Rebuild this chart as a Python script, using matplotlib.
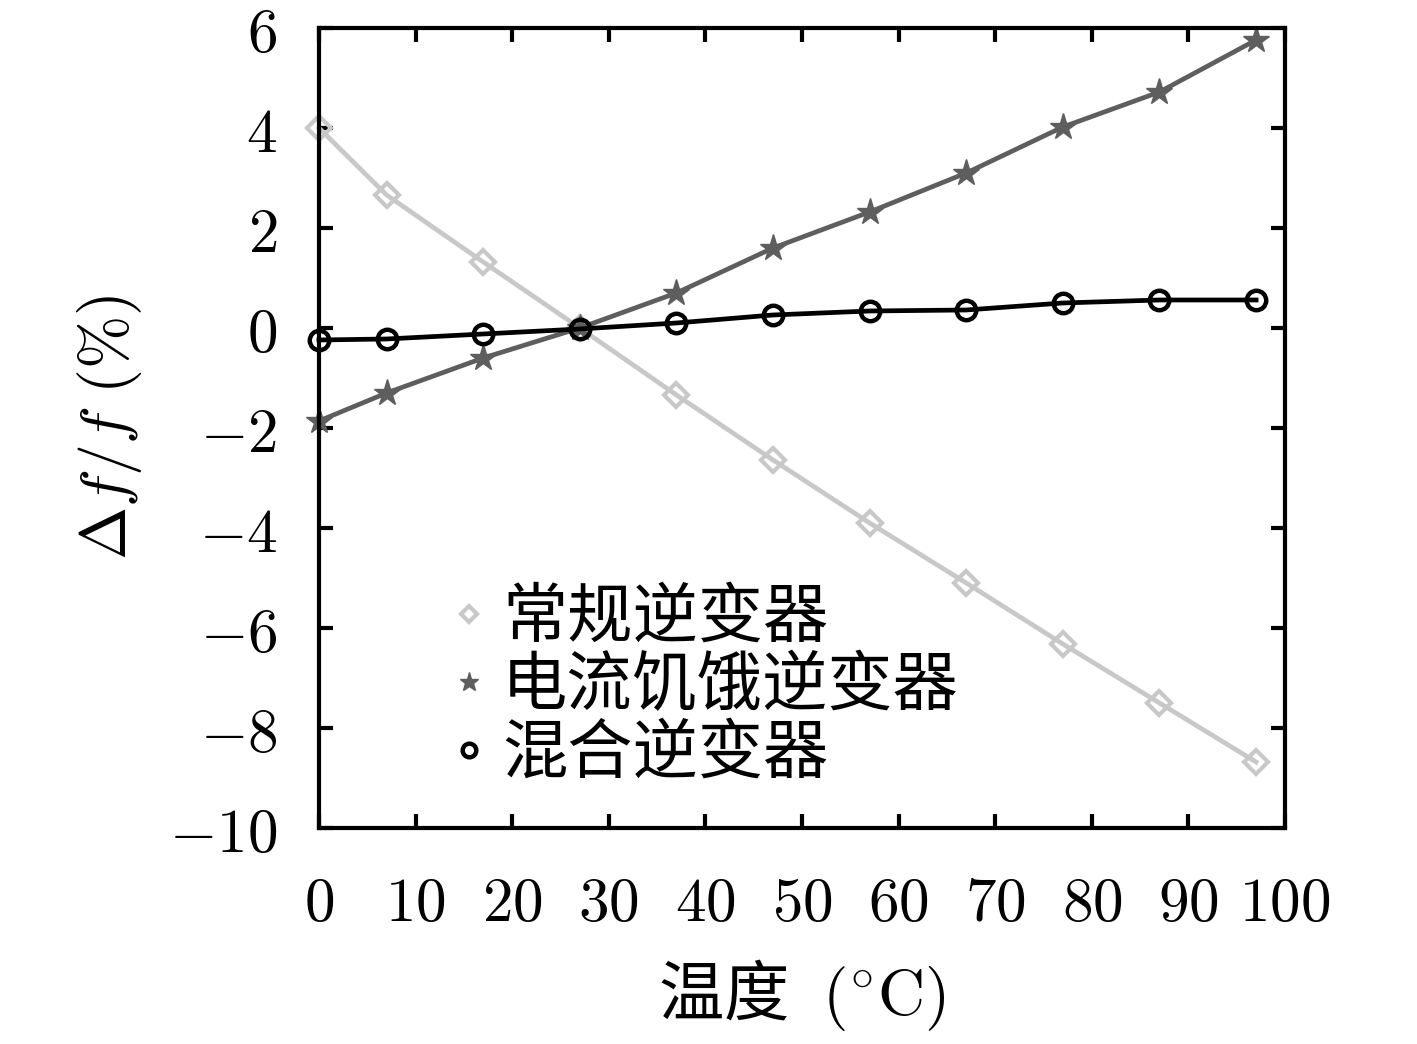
import matplotlib
matplotlib.use("Agg")
import matplotlib.pyplot as plt
from matplotlib.ticker import FuncFormatter

temps = [0, 7, 17, 27, 37, 47, 57, 67, 77, 87, 97]
conventional = [4.0, 2.66, 1.32, 0.0, -1.34, -2.64, -3.9, -5.1, -6.32, -7.5, -8.68]
current_starved = [-1.86, -1.3, -0.6, 0.0, 0.7, 1.6, 2.32, 3.1, 4.02, 4.72, 5.76]
hybrid = [-0.24, -0.22, -0.12, -0.02, 0.1, 0.26, 0.34, 0.36, 0.5, 0.56, 0.56]
labels = ["常规逆变器", "电流饥饿逆变器", "混合逆变器"]
xticks = [0, 10, 20, 30, 40, 50, 60, 70, 80, 90, 100]
yticks = [-10, -8, -6, -4, -2, 0, 2, 4, 6]

plt.rcParams['mathtext.fontset'] = 'cm'
plt.rcParams['font.family'] = ['Noto Sans CJK SC', 'DejaVu Sans']

fig = plt.figure(figsize=(14.17, 10.44), dpi=100)
ax = fig.add_axes([0.2251, 0.2069, 0.6818, 0.7663])

ax.plot(temps, conventional, color='#c8c8c8', lw=3.4, marker='D', ms=12,
        mfc='none', mec='#c8c8c8', mew=3.0, label=labels[0], clip_on=False)
ax.plot(temps, current_starved, color='#5e5e5e', lw=3.4, marker='*', ms=20,
        mfc='#5e5e5e', mec='#5e5e5e', label=labels[1], clip_on=False)
ax.plot(temps, hybrid, color='black', lw=3.4, marker='o', ms=14,
        mfc='none', mec='black', mew=3.2, label=labels[2], zorder=3,
        clip_on=False)

ax.set_xlim(0, 100)
ax.set_ylim(-10, 6)
ax.set_xticks(xticks)
ax.set_yticks(yticks)
fmt = FuncFormatter(lambda v, p: r'$%g$' % v if v >= 0 else r'$-%g$' % (-v))
ax.xaxis.set_major_formatter(fmt)
ax.yaxis.set_major_formatter(fmt)
ax.tick_params(direction='in', length=10, width=3, top=True, right=True,
               labelsize=44)
ax.tick_params(axis='x', pad=32)
ax.tick_params(axis='y', pad=30)
for s in ax.spines.values():
    s.set_linewidth(3)

ax.set_xlabel(r'温度 $\ (^{\circ}\mathrm{C})$', fontsize=47, labelpad=16)
ax.set_ylabel(r'$\Delta f/f\ (\%)$', fontsize=46, labelpad=18)

leg = ax.legend(loc='upper left', bbox_to_anchor=(0.105, 0.344), frameon=False,
                fontsize=47, markerscale=0.7, handlelength=0.5,
                handletextpad=0.25, labelspacing=0.02, borderpad=0)
for h in leg.legend_handles:
    h.set_linestyle('none')

fig.savefig('out.png', dpi=100)
